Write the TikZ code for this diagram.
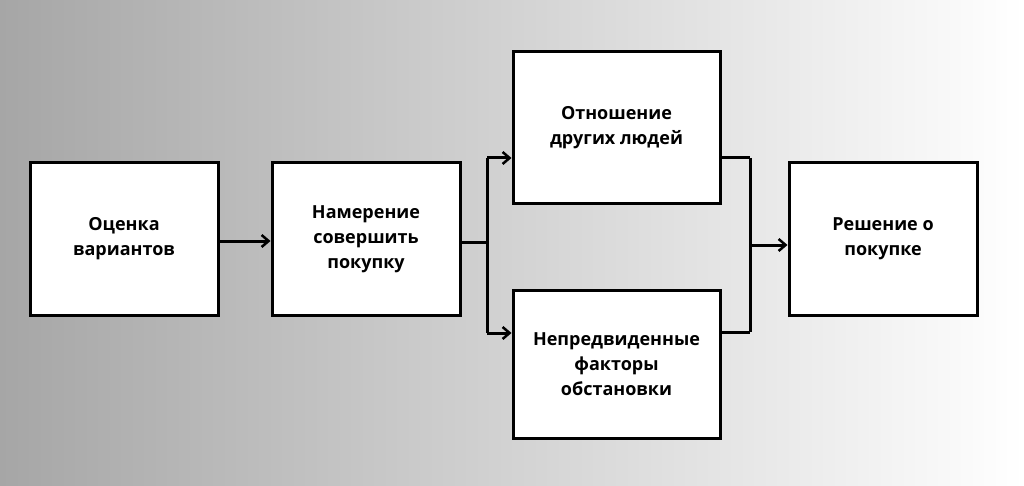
\documentclass[tikz,border=0pt]{standalone}
\usepackage{fontspec}
\setmainfont{Open Sans}
\usetikzlibrary{arrows.meta}
\definecolor{bgl}{HTML}{A6A6A6}
\begin{document}
\begin{tikzpicture}[x=1pt,y=-1pt,
  box/.style={draw=black,line width=3pt,fill=white,minimum width=188pt,minimum height=152pt,align=center,font=\bfseries\fontsize{18}{25}\selectfont,inner sep=0pt},
  conn/.style={line width=3pt},
  arr/.style={conn,-{Straight Barb[length=7pt,width=12pt,line width=2.5pt]}}]
\shade[left color=bgl,right color=white] (0,0) rectangle (1024,486);
\useasboundingbox (0,0) rectangle (1024,486);
\node[box] (a) at (124,239) {Оценка\\вариантов};
\node[box] (b) at (366,239) {Намерение\\совершить\\покупку};
\node[box,minimum width=207pt] (c) at (616.5,128) {Отношение\\других людей};
\node[box,minimum width=207pt,minimum height=148pt] (d) at (616.5,364) {Непредвиденные\\факторы\\обстановки};
\node[box] (e) at (883,239) {Решение о\\покупке};
\coordinate (s) at (487,242);
\coordinate (j) at (750,245);
\draw[arr] (a.east |- 0,241) -- (b.west |- 0,241);
\draw[conn] (b.east |- s) -- (s);
\draw[arr] (s |- 0,158) -- (c.west |- 0,158);
\draw[arr] (s |- 0,333) -- (d.west |- 0,333);
\draw[conn] (s |- 0,158) -- (s |- 0,333);
\draw[conn] (c.east |- 0,158) -- (j |- 0,158);
\draw[conn] (d.east |- 0,332) -- (j |- 0,332);
\draw[conn] (j |- 0,158) -- (j |- 0,332);
\draw[arr] (j) -- (e.west |- j);
\end{tikzpicture}
\end{document}
